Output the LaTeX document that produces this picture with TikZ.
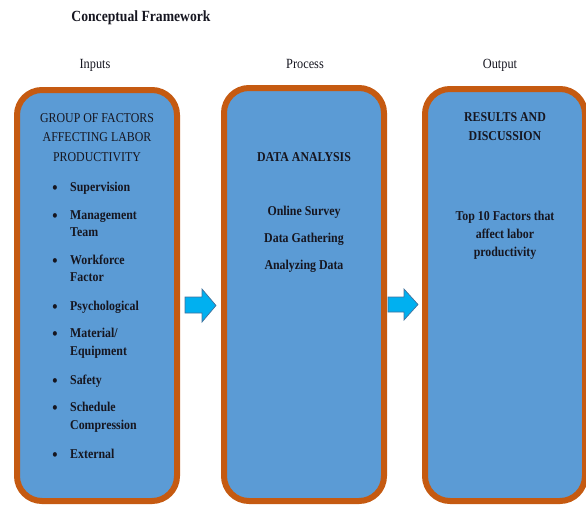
\documentclass[tikz,border=0pt]{standalone}
\usepackage{fontspec}
\setmainfont[FakeStretch=0.88]{Liberation Serif}
\definecolor{boxfill}{HTML}{5B9BD5}
\definecolor{boxedge}{HTML}{C55A11}
\definecolor{arrowfill}{HTML}{00B0F0}
\definecolor{arrowedge}{HTML}{41719C}
\definecolor{ink}{HTML}{161620}
\begin{document}
\begin{tikzpicture}[x=1pt,y=-1pt,
  stagebox/.style={draw=boxedge, fill=boxfill, line width=6pt, rounded corners=25pt,
    minimum width=160pt, inner sep=0pt},
  blockarrow/.style={fill=arrowfill, draw=arrowedge, line width=0.7pt},
  txt/.style={inner sep=0pt, text=ink, yshift=-2.5pt},
  heading/.style={txt, anchor=mid, font=\fontsize{14}{16}\selectfont},
  plain/.style={txt, anchor=mid, font=\fontsize{13.5}{16}\selectfont},
  strong/.style={txt, anchor=mid, font=\fontsize{13.5}{16}\selectfont\bfseries},
  item/.style={txt, anchor=mid west, font=\fontsize{13.5}{16}\selectfont\bfseries},
  dot/.style={inner sep=0pt, text=ink, anchor=mid, yshift=-4.5pt,
    font=\fontsize{17}{16}\selectfont\bfseries}]
\useasboundingbox (0,0) rectangle (586,504);

% title and column headings
\node[strong, font=\fontsize{15.5}{16}\selectfont\bfseries] (title) at (141,17) {Conceptual Framework};
\node[heading] (hin) at (95,64) {Inputs};
\node[heading] (hproc) at (305,64) {Process};
\node[heading] (hout) at (500,64) {Output};

% the three stages
\node[stagebox, minimum height=411pt] (inbox) at (97,295.5) {};
\node[stagebox, minimum height=413pt] (procbox) at (304,294.5) {};
\node[stagebox, minimum height=412pt] (outbox) at (505,295) {};

% block arrows between the stages
\draw[blockarrow] (185,297) -- (202,297) -- (202,289) -- (216,305.5) -- (202,322)
  -- (202,313) -- (185,313) -- cycle;
\draw[blockarrow] (388,297) -- (404,297) -- (404,289) -- (418,304.5) -- (404,320)
  -- (404,312) -- (388,312) -- cycle;

% inputs
\node[plain] (g1) at (97,118) {GROUP OF FACTORS};
\node[plain] (g2) at (97,137) {AFFECTING LABOR};
\node[plain] (g3) at (97,157) {PRODUCTIVITY};
\foreach \y in {187,215,260,306,333,380,407,454}
  \node[dot] at (55,\y) {•};
\node[item] (f1) at (70,187) {Supervision};
\node[item] (f2) at (70,215) {Management};
\node[item] (f2b) at (70,232) {Team};
\node[item] (f3) at (70,260) {Workforce};
\node[item] (f3b) at (70,277) {Factor};
\node[item] (f4) at (70,306) {Psychological};
\node[item] (f5) at (70,333) {Material/};
\node[item] (f5b) at (70,351) {Equipment};
\node[item] (f6) at (70,380) {Safety};
\node[item] (f7) at (70,407) {Schedule};
\node[item] (f7b) at (70,425) {Compression};
\node[item] (f8) at (70,454) {External};

% process
\node[strong] (p0) at (304,157) {DATA ANALYSIS};
\node[strong] (p1) at (304,211) {Online Survey};
\node[strong] (p2) at (304,238) {Data Gathering};
\node[strong] (p3) at (304,265) {Analyzing Data};

% output
\node[strong] (o1) at (505,117) {RESULTS AND};
\node[strong] (o2) at (505,136) {DISCUSSION};
\node[strong] (o3) at (505,216) {Top 10 Factors that};
\node[strong] (o4) at (505,234) {affect labor};
\node[strong] (o5) at (505,252) {productivity};
\end{tikzpicture}
\end{document}
